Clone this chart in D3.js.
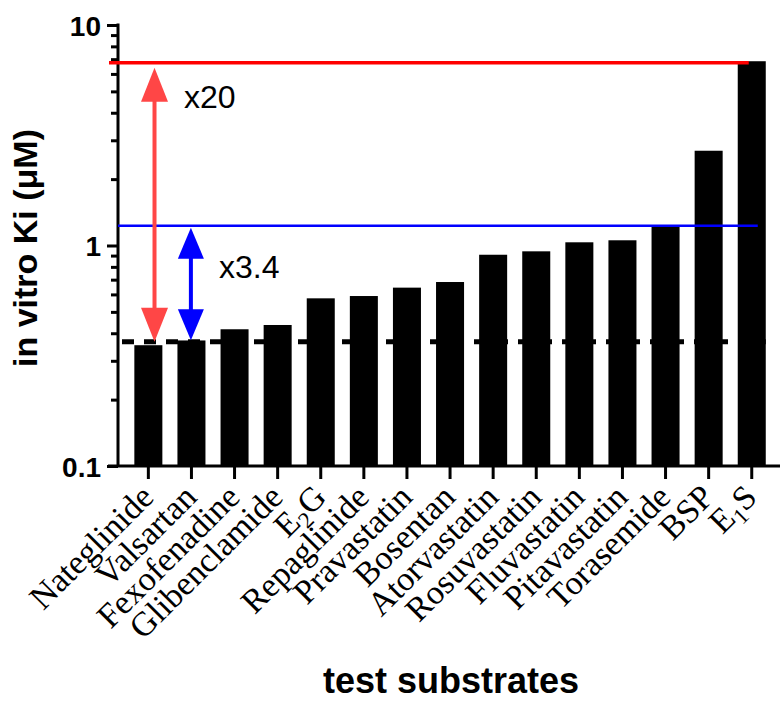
<!DOCTYPE html>
<html>
  <head>
    <title>ki_chart</title>
    <script src="https://d3js.org/d3.v7.min.js"></script>
    <style>
      body {margin:0; background-color:white;}
      svg {display:block;}
      .ylab {font-family:"Liberation Sans", Arial, sans-serif; font-weight:bold;}
      .xlab {font-family:"Liberation Serif", "Times New Roman", serif;}
      .note {font-family:"Liberation Sans", Arial, sans-serif;}
    </style>
  </head>
  <body>
    <script>
      // substrates, in plotted order
      const substrates = ['Nateglinide', 'Valsartan', 'Fexofenadine', 'Glibenclamide', 'E2G', 'Repaglinide',
        'Pravastatin', 'Bosentan', 'Atorvastatin', 'Rosuvastatin', 'Fluvastatin', 'Pitavastatin',
        'Torasemide', 'BSP', 'E1S'];
      // in vitro Ki (uM)
      const kiValues = [0.353, 0.371, 0.417, 0.436, 0.576, 0.590, 0.644, 0.683, 0.908, 0.941, 1.034, 1.056, 1.217, 2.69, 6.85];
      const yTicks = [0.1, 1, 10];
      const refLow = 0.366;   // dashed line
      const refMid = 1.23;    // blue line
      const refHigh = 6.75;   // red line
      const foldLabels = ['x20', 'x3.4'];

      const width = 780;
      const height = 702;

      const svg = d3.select('body').append('svg').attr('width', width).attr('height', height);

      const x = d3.scaleBand()
        .domain(substrates)
        .range([126.8, 773.3])
        .paddingInner(0.35)
        .paddingOuter(0.175);

      const y = d3.scaleLog()
        .domain([0.1, 10])
        .range([466, 25]);

      const axisX = 118;

      // minor ticks
      let minor = [];
      [0.1, 1].forEach(d => { for (let k = 2; k <= 9; k++) minor.push(d * k); });

      svg.append('g')
        .attr('transform', `translate(${axisX},0)`)
        .call(d3.axisLeft(y).tickValues(minor).tickSize(7).tickFormat(''))
        .call(g => g.select('.domain').remove())
        .call(g => g.selectAll('line').attr('stroke', '#000').attr('stroke-width', 3));

      svg.append('g')
        .attr('transform', `translate(${axisX},0)`)
        .call(d3.axisLeft(y).tickValues(yTicks).tickSize(11).tickPadding(6).tickFormat(d => d3.format('~g')(d)))
        .call(g => g.select('.domain').remove())
        .call(g => g.selectAll('line').attr('stroke', '#000').attr('stroke-width', 3))
        .call(g => g.selectAll('text').attr('class', 'ylab').attr('font-size', 28).attr('fill', '#000').attr('dy', '0.36em'));

      // y axis line
      svg.append('line')
        .attr('x1', axisX).attr('x2', axisX)
        .attr('y1', y(10) - 1.5).attr('y2', y(0.1))
        .attr('stroke', '#000').attr('stroke-width', 3);

      // dashed reference
      svg.append('line')
        .attr('x1', axisX + 4).attr('x2', x('E1S') + x.bandwidth())
        .attr('y1', y(refLow)).attr('y2', y(refLow))
        .attr('stroke', '#000').attr('stroke-width', 5)
        .attr('stroke-dasharray', '12 10');

      // bars
      svg.append('g')
        .selectAll('rect').data(substrates).enter().append('rect')
        .attr('x', d => x(d))
        .attr('y', (d, i) => y(kiValues[i]))
        .attr('width', x.bandwidth())
        .attr('height', (d, i) => y(0.1) - y(kiValues[i]))
        .attr('fill', '#000');

      // x axis
      const xg = svg.append('g')
        .attr('transform', `translate(0,${y(0.1)})`)
        .call(d3.axisBottom(x).tickSize(13).tickSizeOuter(0))
        .call(g => g.select('.domain').remove())
        .call(g => g.selectAll('line').attr('stroke', '#000').attr('stroke-width', 3));

      xg.selectAll('text').each(function(d) {
        const t = d3.select(this);
        t.text(null)
          .attr('class', 'xlab')
          .attr('font-size', 34)
          .attr('fill', '#000')
          .attr('text-anchor', 'end')
          .attr('x', 0).attr('y', 0).attr('dy', 0)
          .attr('transform', 'translate(7,33) rotate(-45)');
        const m = d.match(/^E(\d)(\w)$/);
        if (m) {
          t.append('tspan').text('E');
          t.append('tspan').text(m[1]).attr('font-size', 23).attr('dy', 7);
          t.append('tspan').text(m[2]).attr('dy', -7);
        } else {
          t.text(d);
        }
      });

      svg.append('line')
        .attr('x1', 108).attr('x2', width)
        .attr('y1', y(0.1)).attr('y2', y(0.1))
        .attr('stroke', '#000').attr('stroke-width', 3);

      // reference lines
      svg.append('line')
        .attr('x1', 109).attr('x2', x('E1S') + 11)
        .attr('y1', y(refHigh)).attr('y2', y(refHigh))
        .attr('stroke', '#ff0000').attr('stroke-width', 3.5);

      svg.append('line')
        .attr('x1', axisX).attr('x2', x('E1S') + 20)
        .attr('y1', y(refMid)).attr('y2', y(refMid))
        .attr('stroke', '#0000ff').attr('stroke-width', 2.5);

      // double arrows
      function arrow(cx, top, bottom, color, hw, hh) {
        const g = svg.append('g').attr('fill', color);
        g.append('rect').attr('x', cx - 2).attr('y', top + hh - 2).attr('width', 4).attr('height', bottom - top - 2 * hh + 4);
        g.append('path').attr('d', `M${cx},${top} L${cx + hw / 2},${top + hh} L${cx - hw / 2},${top + hh} Z`);
        g.append('path').attr('d', `M${cx},${bottom} L${cx + hw / 2},${bottom - hh} L${cx - hw / 2},${bottom - hh} Z`);
      }
      const xa = x('Nateglinide') + x.bandwidth() * 0.72;
      const xb = x('Valsartan') + x.bandwidth() * 0.48;
      arrow(xa, y(refHigh) + 5, y(refLow), '#ff4646', 27, 34);
      arrow(xb, y(refMid) + 2, y(refLow) - 1.5, '#0000ff', 26, 31);

      svg.append('text').attr('class', 'note')
        .attr('x', 184).attr('y', 108)
        .attr('font-size', 32).attr('fill', '#000')
        .text(foldLabels[0]);
      svg.append('text').attr('class', 'note')
        .attr('x', 219).attr('y', 278)
        .attr('font-size', 32).attr('fill', '#000')
        .text(foldLabels[1]);

      // axis titles
      svg.append('text').attr('class', 'ylab')
        .attr('transform', 'translate(37,248) rotate(-90)')
        .attr('text-anchor', 'middle')
        .attr('font-size', 34)
        .text('in vitro Ki (\u03bcM)');

      svg.append('text').attr('class', 'ylab')
        .attr('x', 451).attr('y', 693)
        .attr('text-anchor', 'middle')
        .attr('font-size', 36)
        .text('test substrates');
    </script>
  </body>
</html>
